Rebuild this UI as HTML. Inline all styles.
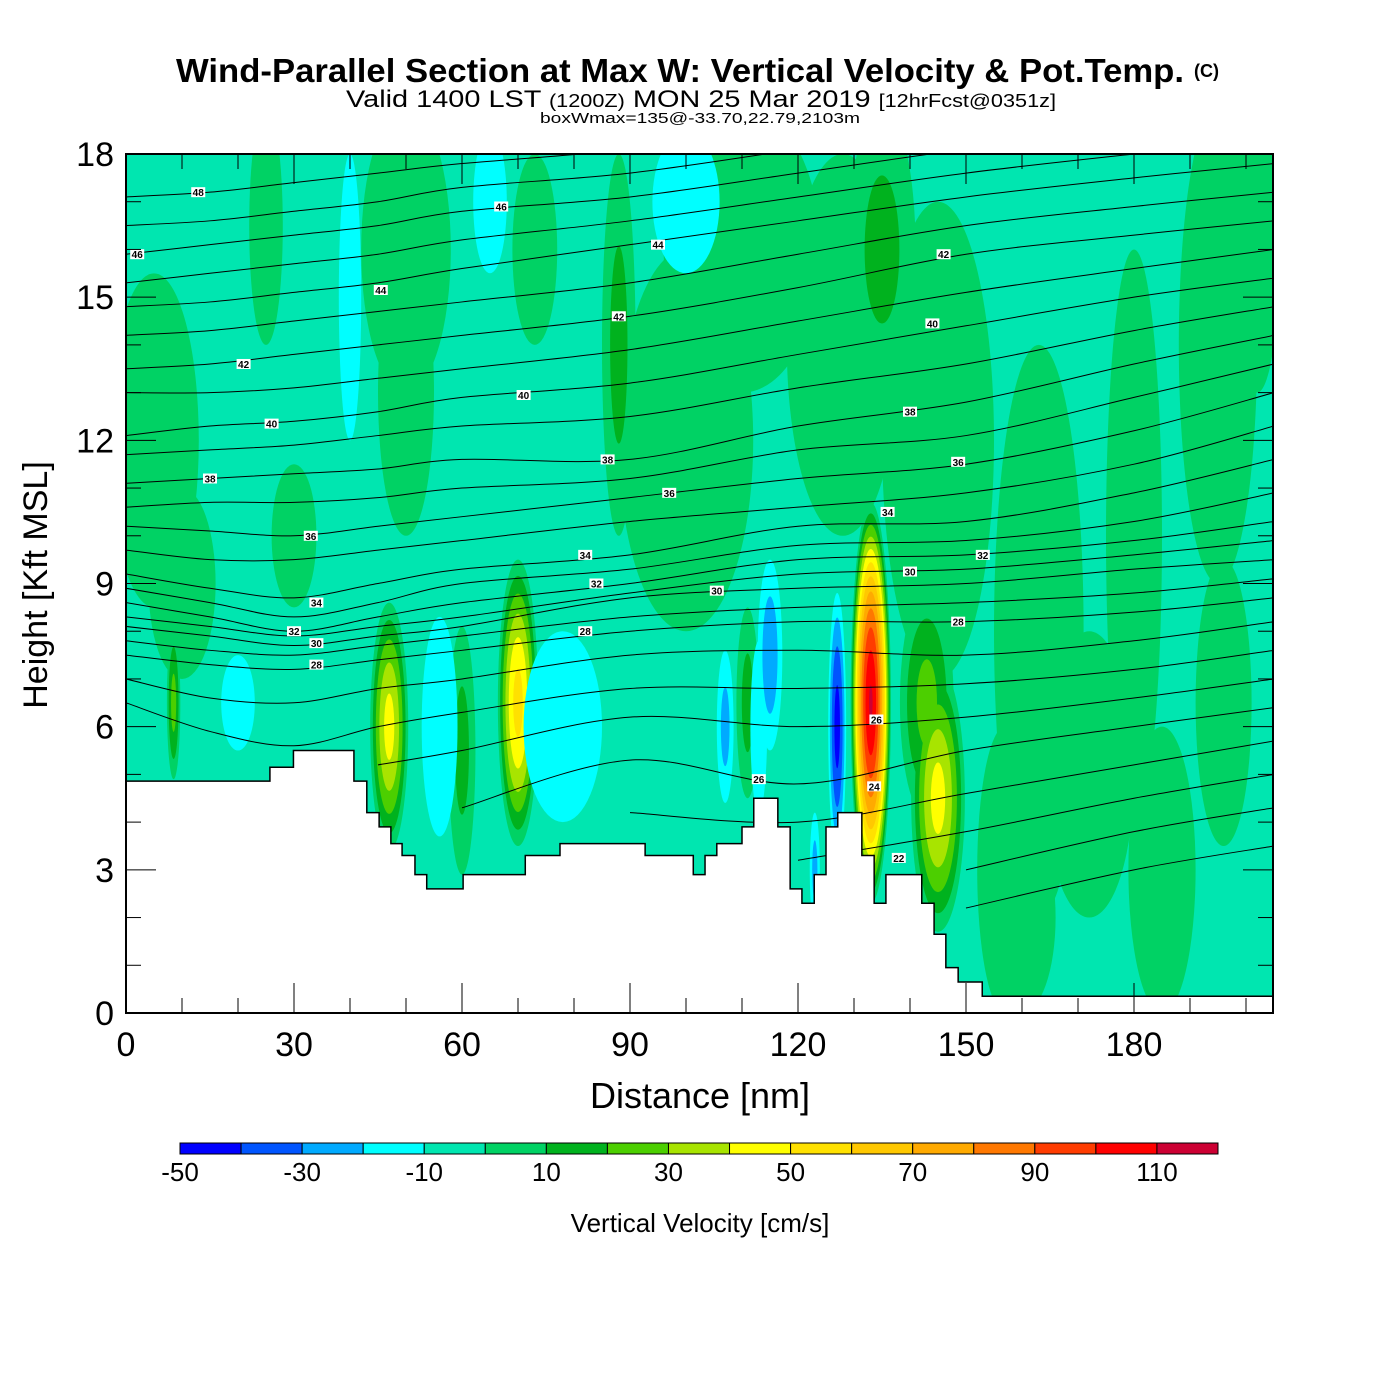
<!DOCTYPE html>
<html><head><meta charset="utf-8"><style>
html,body{margin:0;padding:0;background:#fff;}
svg{display:block;font-family:"Liberation Sans",sans-serif;}
</style></head><body>
<svg id="chart" width="1400" height="1400" viewBox="0 0 1400 1400" xmlns="http://www.w3.org/2000/svg">
<text x="176" y="82" font-size="33" font-weight="bold" textLength="1008" lengthAdjust="spacingAndGlyphs">Wind-Parallel Section at Max W: Vertical Velocity &amp; Pot.Temp.</text>
<text x="1194" y="77" font-size="18" font-weight="bold">(C)</text>
<text x="346" y="107" font-size="24" textLength="710" lengthAdjust="spacingAndGlyphs">Valid 1400 LST <tspan font-size="18">(1200Z)</tspan> MON 25 Mar 2019 <tspan font-size="18">[12hrFcst@0351z]</tspan></text>
<text x="540" y="123" font-size="15" textLength="320" lengthAdjust="spacingAndGlyphs">boxWmax=135@-33.70,22.79,2103m</text>
<defs><clipPath id="pc"><rect x="126" y="154" width="1147" height="859"/></clipPath></defs>
<g id="plot" clip-path="url(#pc)">
<rect x="126" y="154" width="1147" height="859" fill="#00e6b0"/>
<g id="fill"></g><g id="theta"></g><g id="terrain"></g><g id="labels"></g>
</g>
<rect x="126" y="154" width="1147" height="859" fill="none" stroke="#000" stroke-width="2"/>
<g id="axes"></g>
<text x="700" y="1108" font-size="36" text-anchor="middle">Distance [nm]</text>
<text transform="translate(47,585) rotate(-90)" font-size="34" text-anchor="middle">Height [Kft MSL]</text>
<g id="cbar"></g>
<text x="700" y="1232" font-size="26" text-anchor="middle">Vertical Velocity [cm/s]</text>
</svg>
<script>
// ---- data ----
const xTicks=[0,30,60,90,120,150,180];
const yTicks=[0,3,6,9,12,15,18];
const cbLevels=[-50,-40,-30,-20,-10,0,10,20,30,40,50,60,70,80,90,100,110,120];
const cbColors=["#0000ff","#0055ff","#00aaff","#00ffff","#00e6b0","#00d264","#00b21e","#4ccf00","#a8e400","#ffff00","#ffe100","#ffc800","#ffaa00","#ff7800","#ff3c00","#ff0000","#cc0033"];
const cbLabels=[-50,-30,-10,10,30,50,70,90,110];
// terrain steps: start distance (nm) and height (kft)
const terrainX=[0,25.7,29.9,40.7,43.0,45.2,47.3,49.3,51.6,53.7,60.2,71.3,77.5,92.7,101.3,103.4,105.5,110,112.1,116.4,118.6,120.7,122.9,125,127.1,131.4,133.6,135.7,142.1,144.3,146.4,148.6,152.9];
const terrainH=[4.86,5.15,5.5,4.86,4.2,3.9,3.55,3.3,2.9,2.6,2.9,3.3,3.55,3.3,2.9,3.3,3.55,3.9,4.5,3.9,2.6,2.3,2.9,3.9,4.2,3.3,2.3,2.9,2.3,1.65,0.95,0.65,0.35];
// vertical velocity features: center x (nm), center z (kft), half-width (nm), half-height (kft), peak (cm/s)
const wX=[5,25,50,50,73,88,100,110,128,145,163,180,195,202,185,135,40,100,65,8.5,47,70,60,133,145,143,111,157,127,115,107,123,78,56,20,113,172,196,160,30,10];
const wZ=[12,16.5,16,13,16,14,12,16,14,12,8,10,14,16,3,16,15,17,17,6.5,6,6.5,5.5,6.5,4.5,6.5,6.5,3,6,7.5,6,3,6,6,6.5,6,5,6.5,2,10,9];
const wRX=[8,3,8,5,4,3,12,14,10,10,8,5,7,4,6,6,2,6,3,1.2,3.4,3.6,2.4,3.6,4.8,4.8,2,5,1.6,2.2,1.5,0.9,7,3.2,3,1.5,8,5,6,4,6];
const wRZ=[3.5,2.5,3,3,2,4,4,3,4,5,6,6,5,3,3,3,3,1.5,1.5,1.6,2.6,3.0,2.6,4.2,2.8,2.4,2,3,2.8,2,1.6,1.2,2,2.3,1,1.8,3,3,2,1.5,2];
const wV=[8,8,8,8,8,15,8,8,8,8,8,8,8,8,8,15,-12,-15,-12,25,45,55,15,112,45,25,15,8,-45,-28,-25,-25,-13,-13,-12,-18,8,8,8,8,8];
// isentropes: level (K) and heights (kft) at sample distances
const thSampleX=[0,15,30,45,60,90,120,150,180,205];
const thLevels=[20,21,22,23,24,25,26,27,28,29,30,31,32,33,34,35,36,37,38,39,40,41,42,43,44,45,46,47,48];
const thH=[
[0,0,0,0,0,0,0,2.2,3.0,3.5],
[0,0,0,0,0,0,0,3.0,3.8,4.3],
[0,0,0,0,0,0,3.2,3.8,4.5,5.0],
[0,0,0,0,0,4.2,4.0,4.6,5.2,5.7],
[0,0,0,0,4.3,5.3,4.8,5.5,6.0,6.4],
[0,0,0,5.2,5.5,6.2,6.0,6.2,6.6,7.0],
[6.5,5.9,5.6,6.0,6.3,6.8,6.8,6.9,7.2,7.6],
[7.0,6.6,6.5,6.8,7.0,7.5,7.6,7.5,7.8,8.2],
[7.5,7.3,7.2,7.4,7.6,8.0,8.2,8.2,8.4,8.7],
[7.8,7.6,7.5,7.7,7.9,8.3,8.5,8.6,8.8,9.1],
[8.1,7.9,7.7,7.9,8.1,8.7,8.9,9.0,9.3,9.5],
[8.3,8.1,7.9,8.1,8.3,8.8,9.2,9.3,9.6,9.9],
[8.6,8.3,8.0,8.3,8.6,9.0,9.5,9.6,9.9,10.3],
[8.9,8.6,8.3,8.6,9.0,9.3,9.8,9.9,10.3,10.9],
[9.2,8.9,8.7,9.0,9.3,9.6,10.2,10.3,10.9,11.6],
[9.7,9.5,9.5,9.7,9.9,10.3,10.6,10.9,11.5,12.3],
[10.2,10.1,10.0,10.2,10.4,10.8,11.2,11.5,12.2,13.0],
[10.6,10.7,10.7,10.8,11.0,11.2,11.8,12.1,12.9,13.6],
[11.1,11.2,11.3,11.4,11.6,11.6,12.3,12.8,13.6,14.2],
[11.7,11.8,11.9,12.1,12.3,12.5,13.1,13.6,14.3,14.8],
[12.1,12.3,12.4,12.6,12.9,13.2,13.8,14.4,15.0,15.4],
[13.0,13.0,13.1,13.3,13.5,13.9,14.5,15.1,15.6,16.0],
[13.5,13.6,13.8,14.0,14.2,14.6,15.2,15.9,16.3,16.6],
[14.2,14.3,14.5,14.7,14.9,15.3,15.9,16.5,16.9,17.2],
[14.8,14.9,15.1,15.3,15.6,16.1,16.6,17.1,17.5,17.8],
[15.3,15.5,15.7,15.9,16.2,16.6,17.1,17.6,18.0,18.3],
[15.9,16.1,16.3,16.5,16.8,17.1,17.6,18.1,18.5,18.8],
[16.5,16.6,16.8,17.0,17.3,17.6,18.1,18.6,19.0,19.3],
[17.1,17.2,17.4,17.6,17.8,18.1,18.6,19.1,19.5,19.8]];
// contour labels
const lblText=[48,46,46,44,44,42,42,42,40,40,40,38,38,38,36,36,36,34,34,34,32,32,32,30,30,30,28,28,28,26,26,24,22];
const lblX=[12.9,2,67,45.5,95,21,88,146,26,71,144,15,86,140,33,97,148.6,34,82,136,30,84,153,34,105.5,140,34,82,148.6,113,134,133.6,138];
const lblZ=[17.2,15.9,16.9,15.15,16.1,13.6,14.6,15.9,12.35,12.95,14.45,11.2,11.6,12.6,10.0,10.9,11.55,8.6,9.6,10.5,8.0,9.0,9.6,7.75,8.85,9.25,7.3,8.0,8.2,4.9,6.15,4.75,3.25];

// ---- scales ----
const X0=126,X1=1273,Y0=1013,Y1=154,XMAX=(1273-126)/5.6;
const sx=d=>X0+d*5.6;
const sy=z=>Y0-z*(Y0-Y1)/18;
const NS="http://www.w3.org/2000/svg";
function mk(tag,attrs,parent){const e=document.createElementNS(NS,tag);for(const k in attrs)e.setAttribute(k,attrs[k]);parent.appendChild(e);return e;}
function colorFor(v){for(let i=0;i<cbColors.length;i++){if(v>=cbLevels[i]&&v<cbLevels[i+1])return cbColors[i];}return cbColors[cbColors.length-1];}

// ---- vertical velocity fill ----
const fillG=document.getElementById('fill');
const posT=[0,10,20,30,40,50,60,70,80,90,100,110];
posT.forEach(t=>{
  wX.forEach((x,i)=>{
    const v=wV[i]; if(v<=t) return;
    const r=Math.pow((v-t)/v,0.6);
    const e=mk('ellipse',{cx:sx(x),cy:sy(wZ[i]),rx:wRX[i]*5.6*r,ry:wRZ[i]*47.72*r,fill:colorFor(t+0.1)},fillG);
    
    
  });
});
const negT=[-10,-20,-30,-40];
negT.forEach(t=>{
  wX.forEach((x,i)=>{
    const v=wV[i]; if(v>=t) return;
    const r=Math.pow((v-t)/(v+10),0.6);
    const e=mk('ellipse',{cx:sx(x),cy:sy(wZ[i]),rx:wRX[i]*5.6*r,ry:wRZ[i]*47.72*r,fill:colorFor(t-0.1)},fillG);
    
    
  });
});

// ---- isentropes ----
const thG=document.getElementById('theta');
function smoothPath(pts){
  let d=`M${pts[0][0]},${pts[0][1]}`;
  for(let i=0;i<pts.length-1;i++){
    const p0=pts[i-1]||pts[i],p1=pts[i],p2=pts[i+1],p3=pts[i+2]||p2;
    const c1=[p1[0]+(p2[0]-p0[0])/6,p1[1]+(p2[1]-p0[1])/6];
    const c2=[p2[0]-(p3[0]-p1[0])/6,p2[1]-(p3[1]-p1[1])/6];
    d+=` C${c1[0]},${c1[1]} ${c2[0]},${c2[1]} ${p2[0]},${p2[1]}`;
  }
  return d;
}
thLevels.forEach((lv,j)=>{
  const pts=[];
  thSampleX.forEach((x,k)=>{ if(thH[j][k]>0) pts.push([sx(x),sy(thH[j][k])]); });
  if(pts.length<2) return;
  const p=mk('path',{d:smoothPath(pts),fill:'none',stroke:'#000','stroke-width':1},thG);
  
  
});

// ---- terrain ----
const terG=document.getElementById('terrain');
let td=`M${sx(0)},${sy(0)-0} L${sx(0)},${sy(terrainH[0])}`;
for(let i=0;i<terrainX.length;i++){
  const xe=i+1<terrainX.length?terrainX[i+1]:XMAX+1;
  td+=` L${sx(terrainX[i])},${sy(terrainH[i])} L${sx(xe)},${sy(terrainH[i])}`;
}
td+=` L${sx(XMAX+1)},${sy(-1)} L${sx(0)},${sy(-1)} Z`;
const tp=mk('path',{d:td,fill:'#fff',stroke:'#000','stroke-width':1.5},terG);



// ---- contour labels ----
const lbG=document.getElementById('labels');
lblText.forEach((t,i)=>{
  const g=mk('g',{transform:`translate(${sx(lblX[i])},${sy(lblZ[i])})`},lbG);
  
  
  mk('rect',{x:-7,y:-5,width:14,height:10,fill:'#fff'},g);
  const tx=mk('text',{x:0,y:4,'font-size':10,'font-weight':'bold','text-anchor':'middle'},g);
  tx.textContent=t;
});

// ---- axes ----
const axG=document.getElementById('axes');
for(let d=0;d<=XMAX;d+=10){
  const major=d%30===0, L=major?30:15;
  const t1=mk('line',{x1:sx(d),y1:Y0,x2:sx(d),y2:Y0-L,stroke:'#000','stroke-width':1},axG);
  
  
  const t2=mk('line',{x1:sx(d),y1:Y1,x2:sx(d),y2:Y1+L,stroke:'#000','stroke-width':1},axG);
  
  
}
for(let z=0;z<=18;z+=1){
  const major=z%3===0, L=major?30:15;
  const t1=mk('line',{x1:X0,y1:sy(z),x2:X0+L,y2:sy(z),stroke:'#000','stroke-width':1},axG);
  
  
  const t2=mk('line',{x1:X1,y1:sy(z),x2:X1-L,y2:sy(z),stroke:'#000','stroke-width':1},axG);
  
  
}
xTicks.forEach(v=>{
  const t=mk('text',{x:sx(v),y:1056,'font-size':34,'text-anchor':'middle'},axG);
  
  
  t.textContent=v;
});
yTicks.forEach(v=>{
  const t=mk('text',{x:114,y:sy(v)+12,'font-size':34,'text-anchor':'end'},axG);
  
  
  t.textContent=v;
});

// ---- colorbar ----
const cbG=document.getElementById('cbar');
const cbx0=180,cbx1=1218,cbw=(cbx1-cbx0)/cbColors.length;
cbColors.forEach((c,i)=>{
  const r=mk('rect',{x:cbx0+i*cbw,y:1143,width:cbw,height:11,fill:c,stroke:'#000','stroke-width':1},cbG);
  
  
});
cbLabels.forEach(v=>{
  const i=cbLevels.indexOf(v);
  const t=mk('text',{x:cbx0+i*cbw,y:1181,'font-size':26,'text-anchor':'middle'},cbG);
  
  
  t.textContent=v;
});
</script>
</body></html>
